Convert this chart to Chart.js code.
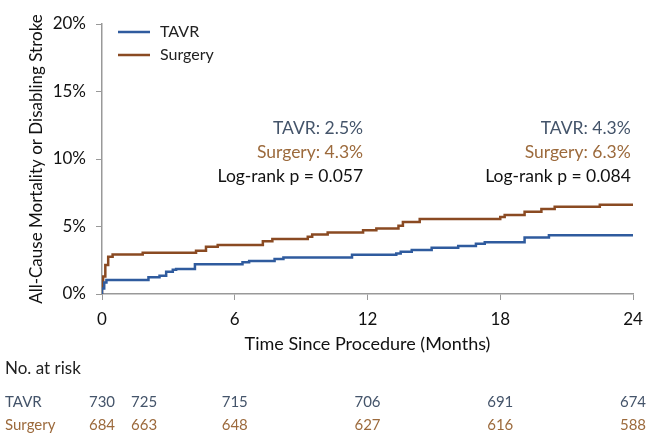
<!DOCTYPE html>
<html>
<head>
<meta charset="utf-8">
<script src="https://cdn.jsdelivr.net/npm/chart.js@4"></script>
<style>
  body { margin: 0; background: #fff; }
  #wrap { width: 660px; height: 439px; }
</style>
</head>
<body>
<div id="wrap"><canvas id="kmChart" width="660" height="439"></canvas></div>
<script>
// Kaplan-Meier curves, cumulative event rate (%) at event times (months)
const tavrMonths = [0, 0.1, 0.2, 2.1, 2.6, 2.9, 3.2, 3.35, 4.2, 6.35, 6.65, 7.8, 8.2, 11.3, 13.3, 13.5, 14.0, 14.9, 16.1, 16.9, 17.3, 19.1, 20.2, 21.15, 24];
const tavrRisk   = [0, 0.4, 0.86, 1.03, 1.24, 1.36, 1.65, 1.8, 1.85, 2.2, 2.35, 2.44, 2.6, 2.7, 2.9, 3.0, 3.13, 3.26, 3.43, 3.55, 3.72, 3.84, 4.19, 4.36, 4.36];

const surgeryMonths = [0, 0.05, 0.15, 0.28, 0.48, 1.84, 4.25, 4.7, 5.23, 7.27, 7.7, 9.3, 9.5, 10.2, 11.8, 12.4, 13.4, 13.6, 14.36, 18.0, 18.2, 19.1, 19.86, 20.46, 22.5, 23.6, 24];
const surgeryRisk   = [0, 0.7, 1.3, 2.15, 2.76, 2.93, 3.06, 3.2, 3.5, 3.63, 3.9, 4.07, 4.24, 4.4, 4.56, 4.72, 4.86, 5.06, 5.33, 5.55, 5.7, 5.85, 6.1, 6.3, 6.47, 6.62, 6.62];

const xTicks = [0, 6, 12, 18, 24];
const yTicks = [0, 5, 10, 15, 20];

// numbers at risk
const riskMonths = [0, 1.9, 6, 12, 18, 24];
const tavrAtRisk = [730, 725, 715, 706, 691, 674];
const surgeryAtRisk = [684, 663, 648, 627, 616, 588];

const tavrColor = "#2f5b9e";
const surgeryColor = "#8a4a22";
const tavrText = "#44546a";
const surgeryText = "#9c6a3c";
const font = "Lato, 'Open Sans', sans-serif";

const toPoints = (xs, ys) => xs.map((x, i) => ({ x: x, y: ys[i] }));

const overlay = {
    id: "overlay",
    afterDraw(chart) {
        const c = chart.ctx;
        const x = chart.scales.x;
        c.save();

        // legend
        c.lineWidth = 2.5;
        c.font = "16px " + font;
        c.textBaseline = "middle";
        [["TAVR", tavrColor, 32], ["Surgery", surgeryColor, 55]].forEach(([label, col, y]) => {
            c.strokeStyle = col;
            c.beginPath();
            c.moveTo(118, y);
            c.lineTo(150, y);
            c.stroke();
            c.fillStyle = "#222";
            c.textAlign = "left";
            c.fillText(label, 160, y);
        });

        // annotations
        c.font = "17.5px " + font;
        c.textAlign = "right";
        const notes = [
            [x.getPixelForValue(11.8), ["TAVR: 2.5%", "Surgery: 4.3%", "Log-rank p = 0.057"]],
            [x.getPixelForValue(23.9), ["TAVR: 4.3%", "Surgery: 6.3%", "Log-rank p = 0.084"]]
        ];
        notes.forEach(([px, lines]) => {
            [tavrText, surgeryText, "#111"].forEach((col, i) => {
                c.fillStyle = col;
                c.fillText(lines[i], px, 128 + i * 24);
            });
        });

        // number at risk table
        c.textAlign = "left";
        c.fillStyle = "#222";
        c.font = "17px " + font;
        c.fillText("No. at risk", 5, 369);
        c.font = "15px " + font;
        c.fillStyle = tavrText;
        c.fillText("TAVR", 5, 402);
        c.fillStyle = surgeryText;
        c.fillText("Surgery", 5, 425);
        c.textAlign = "center";
        riskMonths.forEach((m, i) => {
            const px = x.getPixelForValue(m);
            c.fillStyle = tavrText;
            c.fillText(String(tavrAtRisk[i]), px, 402);
            c.fillStyle = surgeryText;
            c.fillText(String(surgeryAtRisk[i]), px, 425);
        });
        c.restore();
    }
};

new Chart(document.getElementById("kmChart"), {
    type: "line",
    data: {
        datasets: [
            {
                label: "TAVR",
                data: toPoints(tavrMonths, tavrRisk),
                borderColor: tavrColor,
                borderWidth: 2.5,
                stepped: "after",
                pointRadius: 0,
                fill: false
            },
            {
                label: "Surgery",
                data: toPoints(surgeryMonths, surgeryRisk),
                borderColor: surgeryColor,
                borderWidth: 2.5,
                stepped: "after",
                pointRadius: 0,
                fill: false
            }
        ]
    },
    options: {
        responsive: false,
        animation: false,
        layout: { padding: { top: 24, right: 27, bottom: 82, left: 0 } },
        plugins: { legend: { display: false }, tooltip: { enabled: false } },
        scales: {
            x: {
                type: "linear",
                min: 0,
                max: 24,
                afterBuildTicks: (s) => { s.ticks = xTicks.map(v => ({ value: v })); },
                afterFit: (s) => { s.height = 63; },
                grid: { drawOnChartArea: false, tickLength: 6, color: "#999" },
                border: { color: "#999", width: 1.5 },
                ticks: { color: "#111", font: { family: font, size: 17 }, padding: 9 },
                title: {
                    display: true,
                    text: "Time Since Procedure (Months)",
                    color: "#111",
                    font: { family: font, size: 18 },
                    padding: { top: 0, bottom: 2 }
                }
            },
            y: {
                min: 0,
                max: 20,
                afterBuildTicks: (s) => { s.ticks = yTicks.map(v => ({ value: v })); },
                afterFit: (s) => { s.width = 102; },
                grid: { drawOnChartArea: false, tickLength: 6, color: "#999" },
                border: { color: "#999", width: 1.5 },
                ticks: {
                    color: "#111",
                    font: { family: font, size: 17 },
                    padding: 10,
                    callback: (v) => v + "%"
                },
                title: {
                    display: true,
                    text: "All-Cause Mortality or Disabling Stroke",
                    color: "#111",
                    font: { family: font, size: 17 },
                    padding: { top: 26, bottom: 0 }
                }
            }
        }
    },
    plugins: [overlay]
});
</script>
</body>
</html>
